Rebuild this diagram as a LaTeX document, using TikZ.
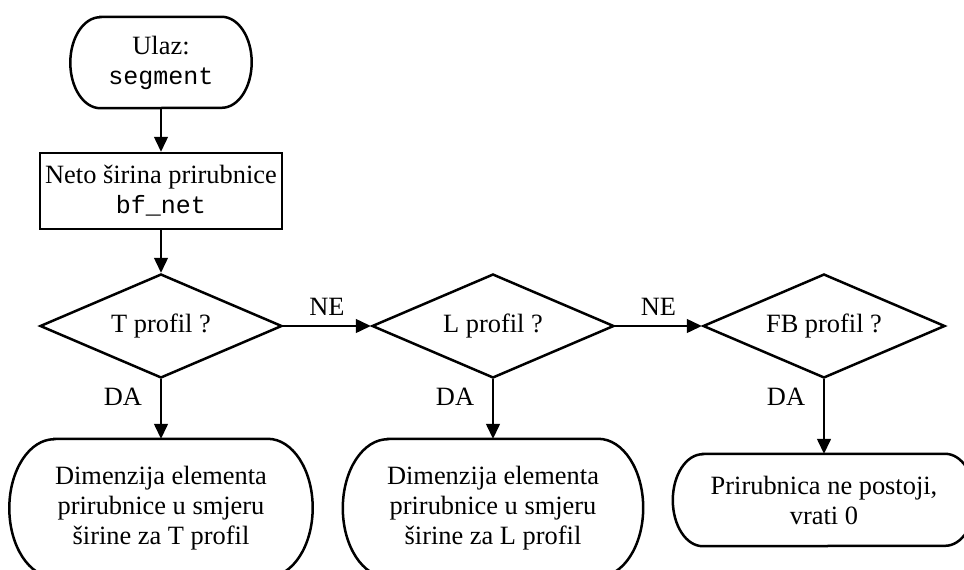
\documentclass[tikz,border=0pt]{standalone}
\usepackage{fontspec}
\setmainfont{Liberation Serif}
\setmonofont{Liberation Mono}
\usetikzlibrary{arrows.meta,shapes.geometric}
\newcommand\drawterm[3]{\draw[outline] ([xshift=#2]#1.north west) -- ([xshift=-#2]#1.north east) arc[start angle=90,end angle=-90,x radius=#2,y radius=#3] -- ([xshift=#2]#1.south west) arc[start angle=270,end angle=90,x radius=#2,y radius=#3] -- cycle;}
\newcommand\mono[1]{{\fontsize{25}{30}\selectfont\ttfamily #1}}
\begin{document}
\begin{tikzpicture}[x=1pt,y=-1pt,
  txt/.style={font=\fontsize{26.4}{30}\selectfont, align=center, inner sep=0pt},
  box/.style={txt, draw, line width=2.5pt, minimum width=242pt, minimum height=76pt},
  dec/.style={txt, draw, diamond, line width=2.5pt, minimum width=242pt, minimum height=104pt, shape aspect=2.33},
  term/.style 2 args={txt, rectangle, minimum width=#1, minimum height=#2},
  outline/.style={line width=2.5pt},
  flow/.style={line width=1.4pt, -{Triangle[length=15pt,width=14pt]}},
  lbl/.style={txt}
]
\useasboundingbox (0,0) rectangle (964,570);

\node[term={181pt}{91pt}] (s) at (161,62.5) {Ulaz:\\\mono{segment}};
\drawterm{s}{30pt}{45.5pt}
\node[box] (p) at (161,191) {Neto širina prirubnice\\\mono{bf\_net}};
\node[dec] (d1) at (161,326) {T profil ?};
\node[dec] (d2) at (493,326) {L profil ?};
\node[dec] (d3) at (824,326) {FB profil ?};

\node[term={303pt}{138pt}] (t1) at (161,508) {Dimenzija elementa\\prirubnice u smjeru\\širine za T profil};
\drawterm{t1}{45pt}{69pt}
\node[term={300pt}{138pt}] (t2) at (493,508) {Dimenzija elementa\\prirubnice u smjeru\\širine za L profil};
\drawterm{t2}{45pt}{69pt}
\node[term={302pt}{92pt}] (t3) at (824,500) {Prirubnica ne postoji,\\vrati 0};
\drawterm{t3}{30pt}{46pt}

\draw[flow] (s.south) -- (p.north);
\draw[flow] (p.south) -- (d1.north);
\draw[flow] (d1.east) -- node[lbl, above=10pt] (ne1) {NE} (d2.west);
\draw[flow] (d2.east) -- node[lbl, above=10pt] (ne2) {NE} (d3.west);
\draw[flow] (d1.south) -- (t1.north);
\draw[flow] (d2.south) -- (t2.north);
\draw[flow] (d3.south) -- (t3.north);
\node[lbl] (da1) at (123,397) {DA};
\node[lbl] (da2) at (455,397) {DA};
\node[lbl] (da3) at (786,397) {DA};
\end{tikzpicture}
\end{document}
